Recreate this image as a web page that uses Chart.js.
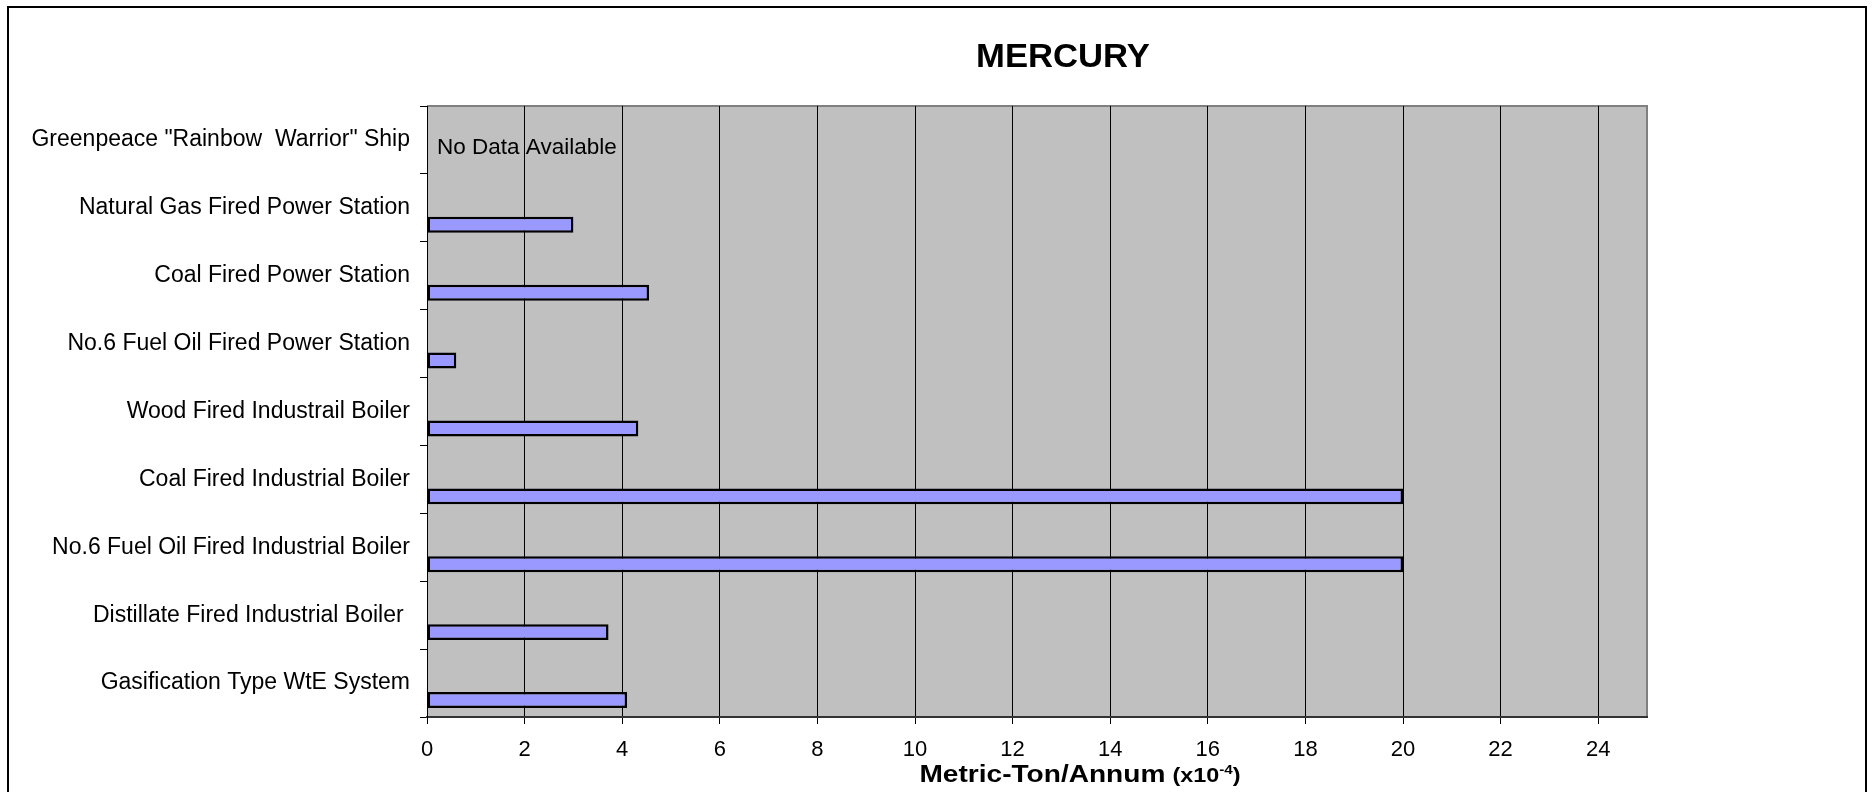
<!DOCTYPE html>
<html>
<head>
<meta charset="utf-8">
<title>Mercury</title>
<script src="https://cdn.jsdelivr.net/npm/chart.js@4.4.1/dist/chart.umd.min.js"></script>
<style>
  body { margin: 0; background: #fff; }
  #frame { position: absolute; left: 7px; top: 6px; width: 1856px; height: 820px; border: 2px solid #000; }
  #grafico { position: absolute; left: 0; top: 0; }
</style>
</head>
<body>
<div id="frame"></div>
<canvas id="grafico" width="1872" height="792"></canvas>
<script>
// categorias (de arriba hacia abajo)
var categorias = [
  'Greenpeace "Rainbow  Warrior" Ship',
  'Natural Gas Fired Power Station',
  'Coal Fired Power Station',
  'No.6 Fuel Oil Fired Power Station',
  'Wood Fired Industrail Boiler',
  'Coal Fired Industrial Boiler',
  'No.6 Fuel Oil Fired Industrial Boiler',
  'Distillate Fired Industrial Boiler ',
  'Gasification Type WtE System'
];
// serie superior vacia (ocupa la mitad alta de cada categoria)
var serieVacia = [null, null, null, null, null, null, null, null, null];
// mercurio, metric-ton/annum x10^-4
var mercurio = [null, 3.0, 4.55, 0.6, 4.33, 20, 20, 3.72, 4.1];
var ejeX = { min: 0, max: 25, paso: 2 };
var titulo = 'MERCURY';
var tituloEje = 'Metric-Ton/Annum';
var notaSinDatos = 'No Data Available';

var fuente = "'Liberation Sans', Arial, sans-serif";

// texto estirado en horizontal (como lo dibuja Excel)
function textoEstirado(c, txt, x, y, font, sx) {
  c.save();
  c.font = font;
  c.translate(x, y);
  c.scale(sx, 1);
  c.fillText(txt, 0, 0);
  c.restore();
}
function medir(c, txt, font) {
  c.save();
  c.font = font;
  var w = c.measureText(txt).width;
  c.restore();
  return w;
}

var fondoPlot = {
  id: 'fondoPlot',
  beforeDraw: function(chart) {
    var c = chart.ctx, a = chart.chartArea;
    c.save();
    c.fillStyle = '#c0c0c0';
    c.fillRect(a.left, a.top, a.right - a.left, a.bottom - a.top);
    c.strokeStyle = '#808080';
    c.lineWidth = 2;
    c.beginPath();
    c.moveTo(a.left, a.top);
    c.lineTo(a.right, a.top);
    c.lineTo(a.right, a.bottom);
    c.stroke();
    c.restore();
  }
};

var textos = {
  id: 'textos',
  afterDraw: function(chart) {
    var c = chart.ctx, a = chart.chartArea;
    var xs = chart.scales.x, ys = chart.scales.y;
    var centro = (a.left + a.right) / 2;
    c.save();
    c.fillStyle = '#000';
    c.textBaseline = 'alphabetic';
    c.textAlign = 'left';

    // titulo
    var fT = 'bold 33px ' + fuente, sT = 1.05;
    var wT = medir(c, titulo, fT) * sT;
    textoEstirado(c, titulo, centro + 26 - wT / 2, 67, fT, sT);

    // titulo del eje x con exponente
    var s = 1.17;
    var f1 = 'bold 24px ' + fuente, f2 = 'bold 20px ' + fuente, f3 = 'bold 13px ' + fuente;
    var w1 = medir(c, tituloEje, f1) * s;
    var w2 = medir(c, '(x10', f2) * s;
    var w3 = medir(c, '-4', f3) * s;
    var w4 = medir(c, ')', f2) * s;
    var gap = 7;
    var total = w1 + gap + w2 + w3 + w4;
    var x0 = centro + 43 - total / 2, yb = 782;
    textoEstirado(c, tituloEje, x0, yb, f1, s);
    x0 += w1 + gap;
    textoEstirado(c, '(x10', x0, yb, f2, s);
    x0 += w2;
    textoEstirado(c, '-4', x0, yb - 8, f3, s);
    x0 += w3;
    textoEstirado(c, ')', x0, yb, f2, s);

    // nota sin datos
    c.font = '22.5px ' + fuente;
    c.fillText(notaSinDatos, xs.getPixelForValue(0) + 10, ys.getPixelForValue(0) + 14);
    c.restore();
  }
};

var ctx = document.getElementById('grafico').getContext('2d');

var chart = new Chart(ctx, {
  type: 'bar',
  data: {
    labels: categorias,
    datasets: [{
      label: '',
      data: serieVacia,
      backgroundColor: 'transparent'
    }, {
      label: 'Mercury',
      data: mercurio,
      backgroundColor: '#9999ff',
      borderColor: '#000',
      borderWidth: 2.5,
      borderSkipped: false
    }]
  },
  options: {
    indexAxis: 'y',
    responsive: false,
    animation: false,
    categoryPercentage: 1.0,
    barPercentage: 0.47,
    layout: { padding: { top: 106, right: 225, left: 0, bottom: 0 } },
    plugins: {
      legend: { display: false },
      title: { display: false },
      tooltip: { enabled: false }
    },
    scales: {
      x: {
        type: 'linear',
        min: ejeX.min,
        max: ejeX.max,
        afterFit: function(scale) { scale.height = 75; },
        ticks: {
          stepSize: ejeX.paso,
          includeBounds: false,
          color: '#000',
          padding: 13,
          maxRotation: 0,
          font: { family: fuente, size: 22 }
        },
        grid: { color: '#000', lineWidth: 1, tickLength: 7, drawTicks: true },
        border: { color: '#333', width: 2 }
      },
      y: {
        type: 'category',
        afterFit: function(scale) { scale.width = 427; },
        ticks: {
          color: '#000',
          padding: 10,
          font: { family: fuente, size: 23 }
        },
        grid: { offset: true, drawOnChartArea: false, color: '#000', tickLength: 7 },
        border: { color: '#000', width: 1 }
      }
    }
  },
  plugins: [fondoPlot, textos]
});
</script>
</body>
</html>
